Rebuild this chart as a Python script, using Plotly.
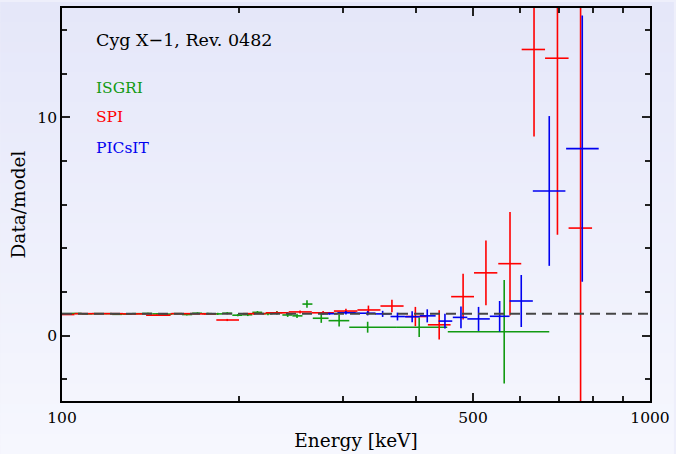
import plotly.graph_objects as go

# ---------------- data ----------------
# ISGRI (green)
isgri_E  = [102, 106, 110, 115, 119, 124, 129, 134, 140, 145, 151, 157, 163, 170, 177, 184, 191, 199, 207, 215, 224, 232, 242, 251, 261, 276, 296, 331, 405, 565]
isgri_lo = [100, 104, 108, 112.5, 117, 121.7, 126.6, 131.6, 136.9, 142.4, 148, 154, 160, 166.5, 173, 180, 187.3, 194.8, 202.6, 210.7, 219, 228, 237, 246.5, 256.4, 267, 284, 308, 370, 453]
isgri_hi = [104, 108, 112.5, 117, 121.7, 126.6, 131.6, 136.9, 142.4, 148, 154, 160, 166.5, 173, 180, 187.3, 194.8, 202.6, 210.7, 219, 228, 237, 246.5, 256.4, 266.6, 284, 308, 370, 452, 674]
isgri_y  = [1.0, 1.01, 0.99, 1.0, 1.0, 0.97, 0.98, 1.0, 1.01, 0.99, 0.98, 1.0, 0.96, 1.02, 1.0, 0.99, 1.02, 0.93, 0.95, 1.06, 1.0, 1.04, 0.94, 0.9, 1.44, 0.79, 0.68, 0.38, 0.38, 0.17]
isgri_dy = [0.02, 0.02, 0.02, 0.02, 0.02, 0.02, 0.02, 0.03, 0.03, 0.03, 0.03, 0.03, 0.04, 0.04, 0.04, 0.05, 0.05, 0.05, 0.06, 0.06, 0.07, 0.08, 0.09, 0.1, 0.17, 0.21, 0.27, 0.25, 0.45, 2.37]

# SPI (red)
spi_E  = [102.5, 110.5, 121, 133, 145, 160, 175, 191, 212, 232, 254, 278, 304, 332, 364, 399, 438, 481, 526, 578, 635, 696, 762]
spi_lo = [100, 105, 116, 127, 139, 153, 167, 183, 203, 222, 243, 266, 290, 318, 348, 384, 419, 459, 502, 552, 605, 663, 727]
spi_hi = [105, 116, 127, 139, 153, 167, 183, 200, 222, 243, 266, 290, 318, 348, 381, 417, 458, 502, 550, 604, 663, 727, 797]
spi_y  = [0.96, 1.0, 1.0, 0.99, 0.93, 1.0, 0.99, 0.71, 1.0, 1.04, 1.08, 1.04, 1.12, 1.17, 1.35, 0.87, 0.49, 1.78, 2.87, 3.29, 13.1, 12.7, 4.92]
spi_dy = [0.02, 0.02, 0.02, 0.03, 0.03, 0.03, 0.04, 0.05, 0.05, 0.06, 0.07, 0.08, 0.1, 0.2, 0.29, 0.44, 0.67, 1.05, 1.48, 2.37, 3.98, 8.09, 11.0]

# PICsIT (blue)
pic_E  = [285, 304, 331, 351, 372, 394, 418, 448, 477, 511, 555, 604, 674, 767]
pic_lo = [276, 294, 316, 341, 362, 383, 406, 437, 462, 489, 534, 577, 632, 720]
pic_hi = [294, 316, 341, 362, 383, 406, 432, 461, 489, 534, 577, 632, 718, 818]
pic_y  = [1.0, 1.04, 1.02, 0.99, 0.87, 0.86, 0.9, 0.66, 0.83, 0.76, 0.88, 1.58, 6.62, 8.56]
pic_dy = [0.05, 0.08, 0.1, 0.14, 0.18, 0.25, 0.3, 0.34, 0.5, 0.55, 0.7, 1.19, 3.43, 6.1]

model_E = [100, 1000]
model_y = [1, 1]

x_ticks = [100, 500, 1000]
x_minor = [200, 300, 400, 600, 700, 800, 900]
y_ticks = [0, 10]
y_minor = [-2, 2, 4, 6, 8, 12, 14]

GREEN = "#129a12"
RED = "#ff0000"
BLUE = "#0000f0"
FONT = "DejaVu Serif"

fig = go.Figure()


def add_series(E, lo, hi, y, dy, color, name):
    fig.add_trace(go.Scatter(
        x=E, y=y, mode="markers", name=name,
        marker=dict(size=0.1, color=color, opacity=0),
        error_x=dict(type="data", symmetric=False,
                     array=[h - e for h, e in zip(hi, E)],
                     arrayminus=[e - l for e, l in zip(E, lo)],
                     color=color, thickness=1.6, width=0),
        error_y=dict(type="data", array=dy, color=color, thickness=1.6, width=0),
        showlegend=False, cliponaxis=True,
    ))


add_series(isgri_E, isgri_lo, isgri_hi, isgri_y, isgri_dy, GREEN, "ISGRI")
add_series(spi_E, spi_lo, spi_hi, spi_y, spi_dy, RED, "SPI")
add_series(pic_E, pic_lo, pic_hi, pic_y, pic_dy, BLUE, "PICsIT")

fig.add_trace(go.Scatter(x=model_E, y=model_y, mode="lines",
                         line=dict(color="#454545", width=2, dash="10px,6px"),
                         showlegend=False))

# background gradient (whole page)
W, H = 676, 454
ml, mr, mt, mb = 62, 24, 6, 53
pw, ph = W - ml - mr, H - mt - mb
top_rgb = (229, 231, 249)
bot_rgb = (246, 247, 254)
n = 45
shapes = []
for i in range(n):
    f = i / (n - 1)
    c = tuple(round(top_rgb[k] + (bot_rgb[k] - top_rgb[k]) * f) for k in range(3))
    y_top_px = H * i / n
    y_bot_px = H * (i + 1) / n + 1
    shapes.append(dict(
        type="rect", xref="paper", yref="paper", layer="below",
        x0=-ml / pw, x1=1 + mr / pw,
        y0=1 - (y_bot_px - mt) / ph, y1=1 - (y_top_px - mt) / ph,
        fillcolor="rgb(%d,%d,%d)" % c, line=dict(width=0),
    ))

annotations = [
    dict(text="Cyg X\u22121, Rev. 0482", x=(94 - ml) / pw, y=1 - (38.5 - mt) / ph,
         xref="paper", yref="paper", xanchor="left", yanchor="middle",
         showarrow=False, font=dict(family=FONT, size=17.5, color="black")),
    dict(text="ISGRI", x=(94 - ml) / pw, y=1 - (86 - mt) / ph,
         xref="paper", yref="paper", xanchor="left", yanchor="middle",
         showarrow=False, font=dict(family=FONT, size=15.5, color=GREEN)),
    dict(text="SPI", x=(94 - ml) / pw, y=1 - (116 - mt) / ph,
         xref="paper", yref="paper", xanchor="left", yanchor="middle",
         showarrow=False, font=dict(family=FONT, size=15.5, color=RED)),
    dict(text="PICsIT", x=(94 - ml) / pw, y=1 - (146.5 - mt) / ph,
         xref="paper", yref="paper", xanchor="left", yanchor="middle",
         showarrow=False, font=dict(family=FONT, size=15.5, color=BLUE)),
]

fig.update_layout(
    width=W, height=H,
    margin=dict(l=ml, r=mr, t=mt, b=mb, pad=0),
    paper_bgcolor="rgb(238,239,251)",
    plot_bgcolor="rgba(0,0,0,0)",
    shapes=shapes, annotations=annotations,
    font=dict(family=FONT, size=15, color="black"),
    xaxis=dict(
        type="log", range=[2, 3], showgrid=False, zeroline=False,
        showline=True, linecolor="black", linewidth=1.6, mirror="allticks",
        ticks="inside", ticklen=8, tickwidth=1.5, tickcolor="#222",
        tickvals=x_ticks, ticktext=[str(v) for v in x_ticks],
        tickfont=dict(family=FONT, size=15.5), ticklabelstandoff=2,
        minor=dict(tickvals=x_minor, ticks="inside", ticklen=5, tickwidth=1.5, tickcolor="#222", showgrid=False),
        title=dict(text="Energy [keV]", font=dict(family=FONT, size=18.5), standoff=8),
    ),
    yaxis=dict(
        range=[-3, 15], showgrid=False, zeroline=False,
        showline=True, linecolor="black", linewidth=1.6, mirror="allticks",
        ticks="inside", ticklen=8, tickwidth=1.5, tickcolor="#222",
        tickvals=y_ticks, ticktext=[str(v) for v in y_ticks],
        tickfont=dict(family=FONT, size=15.5),
        minor=dict(tickvals=y_minor, ticks="inside", ticklen=5, tickwidth=1.5, tickcolor="#222", showgrid=False),
        title=dict(text="Data/model", font=dict(family=FONT, size=18.5), standoff=7),
    ),
)

fig.write_html("out.html")
